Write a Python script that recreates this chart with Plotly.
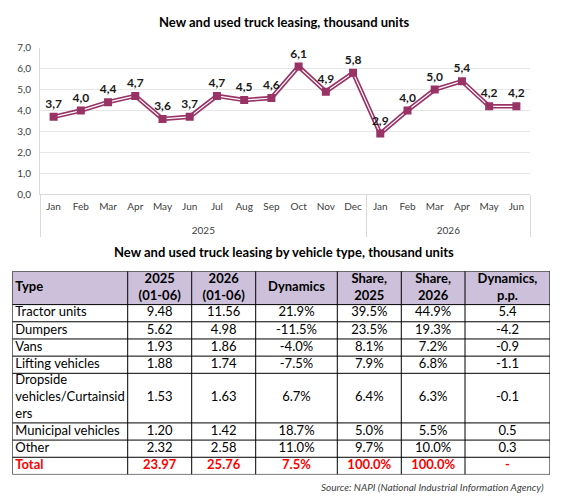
import plotly.graph_objects as go

# monthly leasing, thousand units
years = ["2025"] * 12 + ["2026"] * 6
months = ["Jan", "Feb", "Mar", "Apr", "May", "Jun", "Jul", "Aug", "Sep", "Oct", "Nov", "Dec",
          "Jan", "Feb", "Mar", "Apr", "May", "Jun"]
leasing = [3.7, 4.0, 4.4, 4.7, 3.6, 3.7, 4.7, 4.5, 4.6, 6.1, 4.9, 5.8,
           2.9, 4.0, 5.0, 5.4, 4.2, 4.2]

# table by vehicle type
headers = ["Type", "2025<br>(01-06)", "2026<br>(01-06)", "Dynamics",
           "Share,<br>2025", "Share,<br>2026", "Dynamics,<br>p.p."]
types = ["Tractor units", "Dumpers", "Vans", "Lifting vehicles",
         "Dropside<br>vehicles/Curtainsid<br>ers", "Municipal vehicles", "Other", "Total"]
v2025 = ["9.48", "5.62", "1.93", "1.88", "1.53", "1.20", "2.32", "23.97"]
v2026 = ["11.56", "4.98", "1.86", "1.74", "1.63", "1.42", "2.58", "25.76"]
dynamics = ["21.9%", "-11.5%", "-4.0%", "-7.5%", "6.7%", "18.7%", "11.0%", "7.5%"]
share2025 = ["39.5%", "23.5%", "8.1%", "7.9%", "6.4%", "5.0%", "9.7%", "100.0%"]
share2026 = ["44.9%", "19.3%", "7.2%", "6.8%", "6.3%", "5.5%", "10.0%", "100.0%"]
dyn_pp = ["5.4", "-4.2", "-0.9", "-1.1", "-0.1", "0.5", "0.3", "-"]

W, H = 568, 503
FONT = "Lato"
PLUM = "#993366"

fig = go.Figure()

# month labels get an empty second line so the year row sits lower, like the original
month_lbl = [m + "<br>&nbsp;" for m in months]

# double line: thick plum with a thin white core, markers on top
fig.add_trace(go.Scatter(x=[years, month_lbl], y=leasing, mode="lines",
                         line=dict(color=PLUM, width=4.5), hoverinfo="skip"))
fig.add_trace(go.Scatter(x=[years, month_lbl], y=leasing, mode="lines",
                         line=dict(color="white", width=1.2), hoverinfo="skip"))
fig.add_trace(go.Scatter(x=[years, month_lbl], y=leasing, mode="markers+text",
                         marker=dict(symbol="square", size=8, color=PLUM),
                         texttemplate="%{y:.1f}", textposition="top center",
                         textfont=dict(family=FONT, size=12, color="#1a1a1a", weight="bold"),
                         hoverinfo="skip"))

# ---- table drawn on its own axes (1 unit = 1 px) ----
columns = [types, v2025, v2026, dynamics, share2025, share2026, dyn_pp]
col_w = [115.4, 64, 64, 81.6, 64, 63.7, 85]
LINE_H = 16.6
n_rows = len(types)

rows = [headers] + [[col[i] for col in columns] for i in range(n_rows)]
row_h = [LINE_H * max(c.count("<br>") + 1 for c in r) + 1 for r in rows]
total_w = sum(col_w)
total_h = sum(row_h)

col_edges = [0]
for w in col_w:
    col_edges.append(col_edges[-1] + w)
row_edges = [0]
for h in row_h:
    row_edges.append(row_edges[-1] + h)

for j in range(len(columns)):
    xs, ys, txt, clr = [], [], [], []
    for i, r in enumerate(rows):
        is_total = i == len(rows) - 1
        bold = i == 0 or is_total
        xs.append(col_edges[j] + 3 if j == 0 else (col_edges[j] + col_edges[j + 1]) / 2)
        ys.append((row_edges[i] + row_edges[i + 1]) / 2)
        txt.append("<b>" + r[j] + "</b>" if bold else r[j])
        clr.append("#ff0000" if is_total else "black")
    fig.add_trace(go.Scatter(
        x=xs, y=ys, text=txt, mode="text", xaxis="x2", yaxis="y2",
        textposition="middle right" if j == 0 else "middle center",
        textfont=dict(family=FONT, size=13, color=clr),
        hoverinfo="skip", cliponaxis=False))

shapes = [dict(type="rect", xref="x2", yref="y2", x0=0, x1=total_w, y0=0, y1=row_h[0],
               fillcolor="#ccc0da", line=dict(width=0), layer="below")]
for y in row_edges:
    shapes.append(dict(type="line", xref="x2", yref="y2", x0=0, x1=total_w, y0=y, y1=y,
                       line=dict(color="black", width=1)))
for x in col_edges:
    shapes.append(dict(type="line", xref="x2", yref="y2", x0=x, x1=x, y0=0, y1=total_h,
                       line=dict(color="black", width=1)))

table_top = 1 - 271.7 / H
table_left = 12.3 / W

fig.update_layout(
    width=W, height=H,
    margin=dict(l=0, r=0, t=0, b=0),
    paper_bgcolor="white", plot_bgcolor="white",
    showlegend=False,
    separators=",.",
    font=dict(family=FONT, size=11, color="#404040"),
    xaxis=dict(domain=[40 / W, 530 / W], type="multicategory", tickangle=0,
               range=[-0.5, len(months) - 0.5],
               showline=True, linecolor="#d9d9d9", linewidth=1,
               showgrid=False, ticks="", ticklabelstandoff=3,
               showdividers=True, dividercolor="#d9d9d9", dividerwidth=1,
               tickfont=dict(family=FONT, size=10, color="#404040")),
    yaxis=dict(domain=[1 - 193 / H, 1 - 42.7 / H], range=[0, 7], dtick=1,
               tickformat=".1f", showgrid=True, gridcolor="#e6e6e6",
               showline=True, linecolor="#d9d9d9", zeroline=False,
               ticklabelstandoff=6,
               tickfont=dict(family=FONT, size=10, color="#404040")),
    xaxis2=dict(domain=[table_left, table_left + total_w / W], range=[0, total_w],
                visible=False, fixedrange=True),
    yaxis2=dict(domain=[table_top - total_h / H, table_top], range=[total_h, 0],
                visible=False, fixedrange=True),
    shapes=shapes,
    annotations=[
        dict(text="<b>New and used truck leasing, thousand units</b>", x=0.5, y=1 - 16 / H,
             xref="paper", yref="paper", yanchor="middle", showarrow=False,
             font=dict(family=FONT, size=13, color="black")),
        dict(text="<b>New and used truck leasing by vehicle type, thousand units</b>", x=0.5,
             y=1 - 252 / H, xref="paper", yref="paper", yanchor="middle", showarrow=False,
             font=dict(family=FONT, size=13, color="black")),
        dict(text="<i>Source: NAPI (National Industrial Information Agency)</i>",
             x=546 / W, y=1 - 493 / H, xref="paper", yref="paper", xanchor="right",
             yanchor="middle", showarrow=False,
             font=dict(family=FONT, size=10, color="#404040")),
    ],
)

# pin the graph to the top-left corner of the page
pin = ("var d=document.getElementById('{plot_id}');"
       "document.documentElement.style.margin='0';document.body.style.margin='0';"
       "document.body.style.overflow='hidden';"
       "d.style.position='fixed';d.style.top='0';d.style.left='0';")
fig.write_html("out.html", config={"displayModeBar": False}, post_script=pin)
